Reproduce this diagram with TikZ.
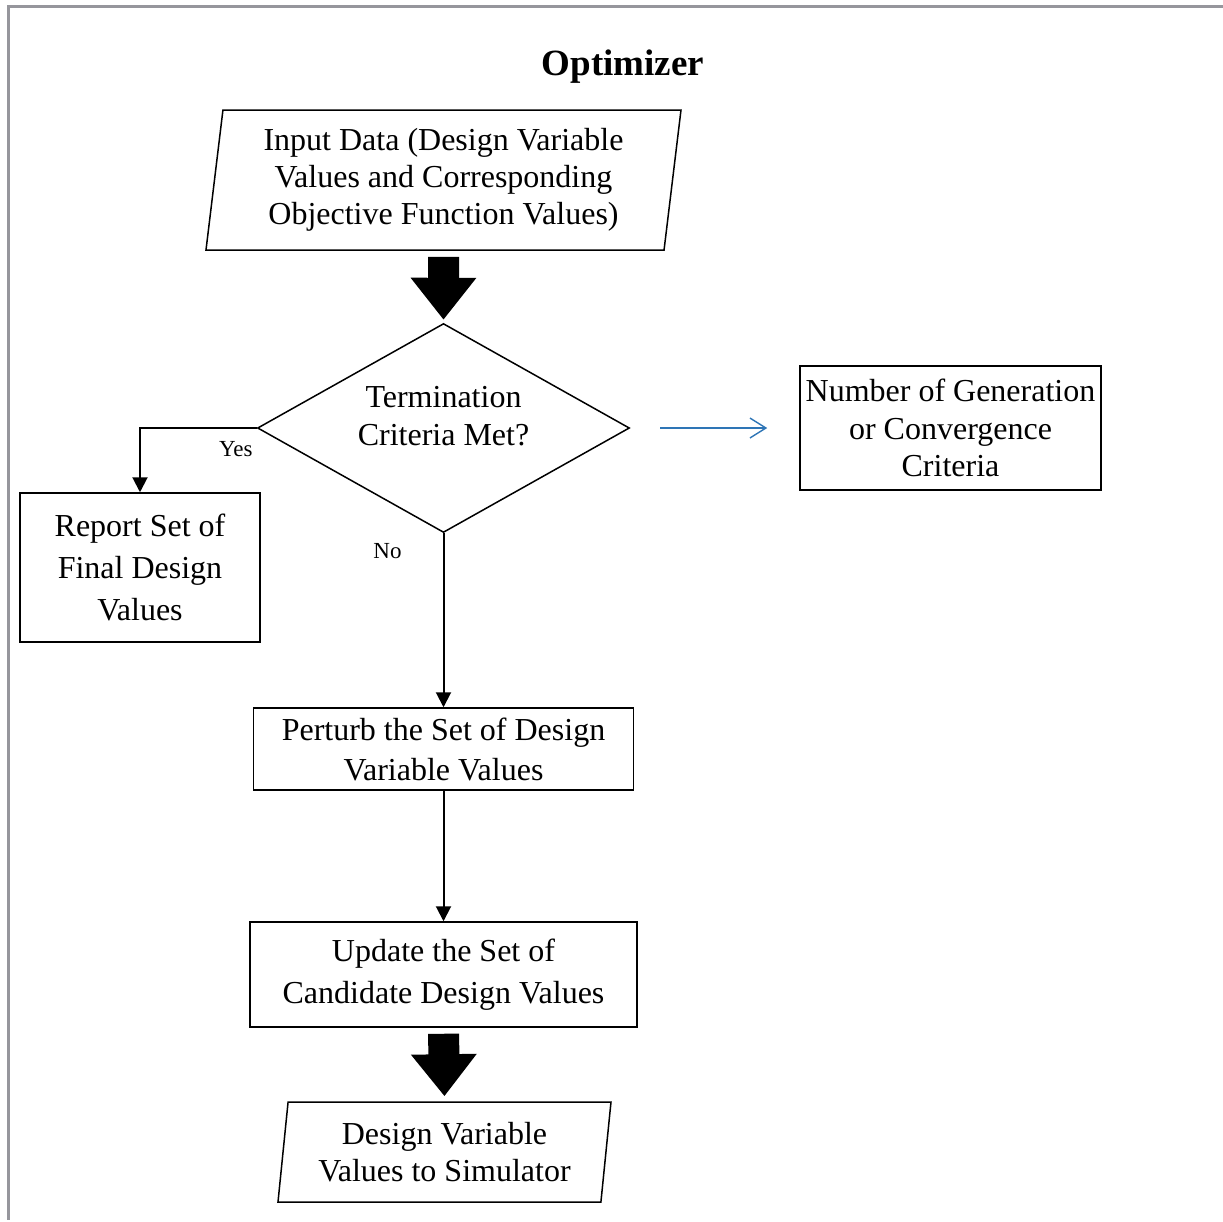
\documentclass[tikz,border=0pt]{standalone}
\usepackage{fontspec}
\setmainfont{Liberation Serif}
\usetikzlibrary{arrows.meta,positioning,shapes.geometric}
\definecolor{framegray}{RGB}{150,150,156}
\definecolor{accentblue}{RGB}{46,117,182}

\begin{document}
\begin{tikzpicture}[x=0.5pt,y=-0.5pt,
  box/.style={draw,line width=0.75pt,align=center,inner sep=1pt,font=\fontsize{16}{18.5}\selectfont},
  iobox/.style={box,trapezium,trapezium left angle=81,trapezium right angle=99,trapezium stretches body},
  flow/.style={line width=1pt,-{Triangle[width=7.5pt,length=7.5pt]}},
  bigflow/.style={line width=15.5pt,-{Triangle[width=31.5pt,length=21pt]}},
  small/.style={font=\fontsize{11.5}{13}\selectfont}]
  \useasboundingbox (0,0) rectangle (1223,1222);
  \draw[framegray,line width=1.5pt] (1223,6) -- (8,6) -- (8,1220);
  \node (title) at (623,67) {\fontsize{18.5}{22}\selectfont\bfseries Optimizer};
  \node[iobox,minimum width=237.5pt,minimum height=70pt] (input) at (443.5,180)
    {Input Data (Design Variable\\Values and Corresponding\\Objective Function Values)};
  \node[box,diamond,aspect=1.78,inner sep=0pt,minimum width=186pt,minimum height=104.5pt,
    text depth=12pt,font=\fontsize{16}{19}\selectfont] (term) at (443.5,428) {Termination\\Criteria Met?};
  \node[box,minimum width=120pt,minimum height=74.5pt,font=\fontsize{16}{21}\selectfont]
    (report) at (140,567.5) {Report Set of\\Final Design\\Values};
  \node[box,minimum width=150.5pt,minimum height=62pt,font=\fontsize{16}{18.75}\selectfont]
    (crit) at (950.5,428) {Number of Generation\\or Convergence\\Criteria};
  \node[box,minimum width=190pt,minimum height=41pt,font=\fontsize{16}{20}\selectfont]
    (perturb) at (443.5,749) {Perturb the Set of Design\\Variable Values};
  \node[box,minimum width=193.5pt,minimum height=52.5pt,font=\fontsize{16}{21}\selectfont]
    (update) at (443.5,974.5) {Update the Set of\\Candidate Design Values};
  \node[iobox,minimum width=166.5pt,minimum height=50pt] (output) at (444.5,1152)
    {Design Variable\\Values to Simulator};

  \draw[bigflow,shorten <=3pt,shorten >=1.5pt] (input.south) -- (term.north);
  \draw[flow] (term.west) -| node[small,pos=0.09,yshift=-10.5pt]{Yes} (report.north);
  \draw[flow] (term.south) -- node[small,pos=0.1,xshift=-28pt]{No} (perturb.north);
  \draw[accentblue,line width=0.7pt,-{Straight Barb[width=10pt,length=8pt]},
    shorten <=15pt,shorten >=16pt] (term.east) -- (crit.west);
  \draw[flow] (perturb.south) -- (update.north);
  \draw[bigflow,shorten <=3pt,shorten >=2.5pt] (update.south) -- (output.north);
\end{tikzpicture}
\end{document}
